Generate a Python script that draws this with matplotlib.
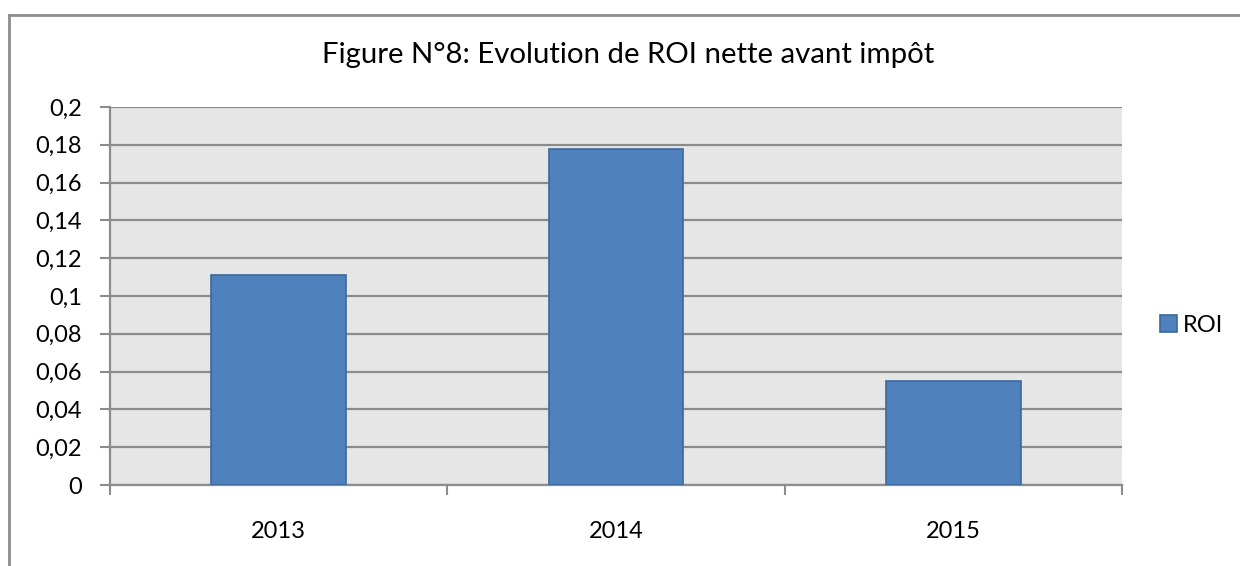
import matplotlib
matplotlib.use("Agg")
import matplotlib.pyplot as plt
from matplotlib.lines import Line2D
from matplotlib.ticker import FixedLocator, FixedFormatter

plt.rcParams['font.family'] = ['Lato', 'DejaVu Sans']

categories = ["2013", "2014", "2015"]
roi = [0.111, 0.178, 0.055]
yticks = [0, 0.02, 0.04, 0.06, 0.08, 0.1, 0.12, 0.14, 0.16, 0.18, 0.2]
ytick_labels = ["0", "0,02", "0,04", "0,06", "0,08", "0,1", "0,12", "0,14", "0,16", "0,18", "0,2"]
title = "Figure N°8: Evolution de ROI nette avant impôt"

W, H = 1240, 566
fig = plt.figure(figsize=(W / 100, H / 100), dpi=100)
fig.patch.set_facecolor("white")

L, R, T, B = 110, 1122, 107, 485
ax = fig.add_axes([L / W, (H - B) / H, (R - L) / W, (B - T) / H])
ax.set_facecolor("#e6e6e6")

x = list(range(len(categories)))
ax.bar(x, roi, width=0.4, color="#4f81bd", edgecolor="#3d679c", linewidth=1.2, zorder=3, label="ROI")

ax.set_xlim(-0.5, len(categories) - 0.5)
ax.set_ylim(0, 0.2)
ax.set_yticks(yticks)
ax.set_yticklabels(ytick_labels)
ax.yaxis.grid(True, color="#8c8c8c", linewidth=1.6, zorder=1)
ax.set_axisbelow(True)

ax.xaxis.set_major_locator(FixedLocator([i - 0.5 for i in range(len(categories) + 1)]))
ax.xaxis.set_major_formatter(FixedFormatter([""] * (len(categories) + 1)))
ax.xaxis.set_minor_locator(FixedLocator(x))
ax.xaxis.set_minor_formatter(FixedFormatter(categories))
ax.tick_params(axis="x", which="minor", length=0, pad=26, labelsize=17, labelcolor="#000000")
ax.tick_params(axis="x", which="major", length=7, width=1.5, color="#8c8c8c", direction="out")
ax.tick_params(axis="y", length=7, width=1.5, color="#8c8c8c", direction="out", pad=13,
               labelsize=17, labelcolor="#000000")

for s in ["top", "right"]:
    ax.spines[s].set_visible(False)
for s in ["left", "bottom"]:
    ax.spines[s].set_color("#8c8c8c")
    ax.spines[s].set_linewidth(1.6)

fig.text(628 / W, 1 - 55 / H, title, ha="center", va="center", fontsize=21.2, color="#000000")

leg = ax.legend(loc="center left", bbox_to_anchor=(1160 / W, 1 - 325 / H),
                bbox_transform=fig.transFigure, frameon=False, fontsize=17,
                handlelength=0.7, handleheight=0.7, handletextpad=0.25, borderpad=0, borderaxespad=0)

# outer chart frame (top and left visible)
fig.add_artist(Line2D([9 / W, 9 / W], [0, 1 - 15 / H], transform=fig.transFigure,
                      color="#8c8c8c", linewidth=2))
fig.add_artist(Line2D([9 / W, 1], [1 - 15 / H, 1 - 15 / H], transform=fig.transFigure,
                      color="#8c8c8c", linewidth=2))

fig.savefig("out.png", dpi=100, facecolor="white")
